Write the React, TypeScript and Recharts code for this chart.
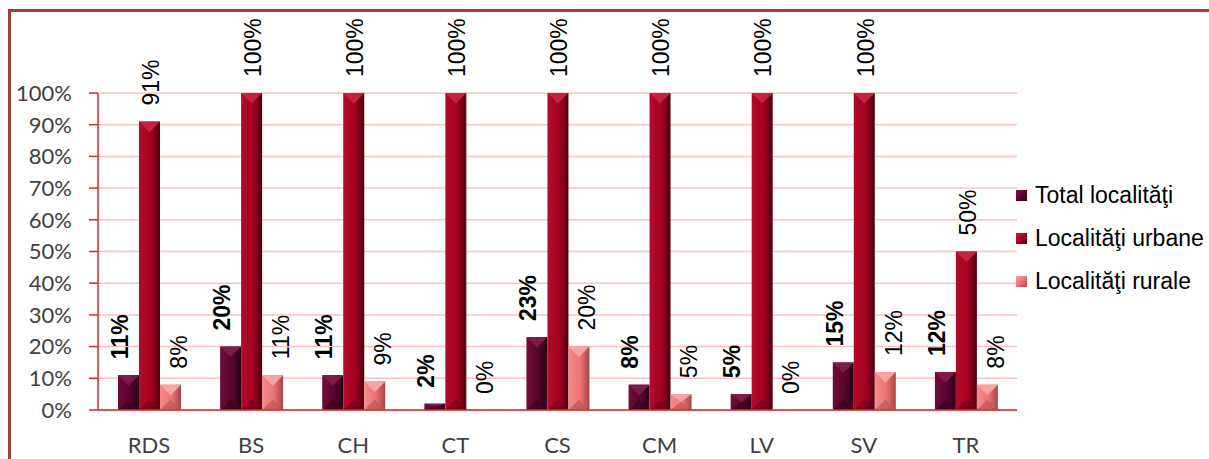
import React from "react";
import {
  BarChart,
  Bar,
  XAxis,
  YAxis,
  CartesianGrid,
  Legend,
  LabelList,
} from "recharts";

const categories = ["RDS", "BS", "CH", "CT", "CS", "CM", "LV", "SV", "TR"];
const totalLoc = [11, 20, 11, 2, 23, 8, 5, 15, 12];
const urbanLoc = [91, 100, 100, 100, 100, 100, 100, 100, 50];
const ruralLoc = [8, 11, 9, 0, 20, 5, 0, 12, 8];
const yTicks = [0, 10, 20, 30, 40, 50, 60, 70, 80, 90, 100];
// category boundaries, for the tick marks between groups
const edgeTicks = [0, 1, 2, 3, 4, 5, 6, 7, 8, 9];

const seriesNames = ["Total localităţi", "Localităţi urbane", "Localităţi rurale"];

const data = categories.map((name, i) => ({
  name,
  total: totalLoc[i],
  urban: urbanLoc[i],
  rural: ruralLoc[i],
}));

const AXIS_RED = "#d42a2a";
const GRID_PINK = "#f7c3c3";

const palette = {
  total: { left: "#6e0c3c", mid: "#5a0530", right: "#2a0014", top: "#7e1a4c", bottom: "#3a0020" },
  urban: { left: "#b00c2c", mid: "#a80022", right: "#4e000e", top: "#c42442", bottom: "#70001a" },
  rural: { left: "#f48a8a", mid: "#ee7474", right: "#a54646", top: "#f8a4a4", bottom: "#c05656" },
};

type Key = keyof typeof palette;

function makeShape(key: Key) {
  return (props: any) => {
    const { x, y, width, height } = props;
    if (!height || height <= 0) return <g />;
    const c = palette[key];
    const tri = Math.min(width / 2, height / 2);
    return (
      <g>
        <rect x={x} y={y} width={width} height={height} fill={`url(#grad-${key})`} />
        <polygon
          points={`${x},${y} ${x + width},${y} ${x + width / 2},${y + tri}`}
          fill={c.top}
        />
        <polygon
          points={`${x},${y + height} ${x + width},${y + height} ${x + width / 2},${y + height - tri}`}
          fill={c.bottom}
          opacity={0.7}
        />
      </g>
    );
  };
}

function makeLabel(dx: number, bold: boolean) {
  return (props: any) => {
    const { x, y, width, value } = props;
    const cx = Number(x) + Number(width) / 2 + dx;
    const ty = Number(y) - 16;
    return (
      <text
        x={cx}
        y={ty}
        dy="0.36em"
        transform={`rotate(-90, ${cx}, ${ty})`}
        textAnchor="start"
        fontFamily="'Liberation Sans', Arial, sans-serif"
        fontSize={23}
        fontWeight={bold ? "bold" : "normal"}
        fill="#000"
      >
        {`${value}%`}
      </text>
    );
  };
}

const XTick = (props: any) => {
  const { x, y, payload } = props;
  return (
    <text
      x={x}
      y={y}
      dy="0.71em"
      textAnchor="middle"
      fontFamily="Lato, sans-serif"
      fontSize={22}
      fill="#404040"
    >
      {payload.value}
    </text>
  );
};

const renderLegend = () => (
  <div style={{ fontFamily: "'Liberation Sans', Arial, sans-serif", fontSize: 23, color: "#000" }}>
    {(["total", "urban", "rural"] as Key[]).map((k, i) => (
      <div key={k} style={{ display: "flex", alignItems: "center", height: 43 }}>
        <span
          style={{
            display: "inline-block",
            width: 11,
            height: 11,
            marginRight: 8,
            background: `linear-gradient(135deg, ${palette[k].top}, ${palette[k].mid} 50%, ${palette[k].right})`,
          }}
        />
        <span style={{ whiteSpace: "nowrap" }}>{seriesNames[i]}</span>
      </div>
    ))}
  </div>
);

export default function App() {
  return (
    <div style={{ position: "absolute", left: 0, top: 0, width: 1209, height: 459, overflow: "hidden", background: "#fff" }}>
      <div
        style={{
          position: "absolute",
          left: 8,
          top: 9,
          width: 1230,
          height: 480,
          borderTop: "3px solid #a83a3a",
          borderLeft: "3px solid #a83a3a",
        }}
      />
      <BarChart
        width={1209}
        height={459}
        data={data}
        margin={{ top: 93, right: 192, left: 0, bottom: 0 }}
        barGap={0}
        style={{ position: "absolute", left: 0, top: 0 }}
      >
        <defs>
          {(Object.keys(palette) as Key[]).map((k) => (
            <linearGradient key={k} id={`grad-${k}`} x1="0" y1="0" x2="1" y2="0">
              <stop offset="0%" stopColor={palette[k].left} />
              <stop offset="55%" stopColor={palette[k].mid} />
              <stop offset="100%" stopColor={palette[k].right} />
            </linearGradient>
          ))}
        </defs>
        <CartesianGrid vertical={false} stroke={GRID_PINK} strokeWidth={1.5} />
        <XAxis
          xAxisId="edges"
          type="number"
          domain={[0, categories.length]}
          ticks={edgeTicks}
          interval={0}
          height={0}
          axisLine={false}
          tick={false}
          tickLine={{ stroke: AXIS_RED, strokeWidth: 1.5 }}
          tickSize={9}
        />
        <XAxis
          dataKey="name"
          height={49}
          interval={0}
          axisLine={{ stroke: AXIS_RED, strokeWidth: 1.5 }}
          tickLine={false}
          tickSize={9}
          tickMargin={18}
          tick={<XTick />}
        />
        <YAxis
          width={98}
          domain={[0, 100]}
          ticks={yTicks}
          interval={0}
          tickFormatter={(v) => `${v}%`}
          axisLine={{ stroke: AXIS_RED, strokeWidth: 1.5 }}
          tickLine={{ stroke: AXIS_RED, strokeWidth: 1.5 }}
          tickSize={9}
          tickMargin={17}
          tick={{ fontFamily: "Lato, sans-serif", fontSize: 22, fill: "#404040" }}
        />
        <Legend
          layout="vertical"
          align="center"
          verticalAlign="middle"
          content={renderLegend}
          wrapperStyle={{ left: 1016, top: 174, width: 193 }}
        />
        <Bar dataKey="total" name={seriesNames[0]} barSize={21} shape={makeShape("total")} isAnimationActive={false}>
          <LabelList dataKey="total" content={makeLabel(-9, true)} />
        </Bar>
        <Bar dataKey="urban" name={seriesNames[1]} barSize={21} shape={makeShape("urban")} isAnimationActive={false}>
          <LabelList dataKey="urban" content={makeLabel(1, false)} />
        </Bar>
        <Bar dataKey="rural" name={seriesNames[2]} barSize={21} shape={makeShape("rural")} isAnimationActive={false}>
          <LabelList dataKey="rural" content={makeLabel(8, false)} />
        </Bar>
      </BarChart>
    </div>
  );
}
